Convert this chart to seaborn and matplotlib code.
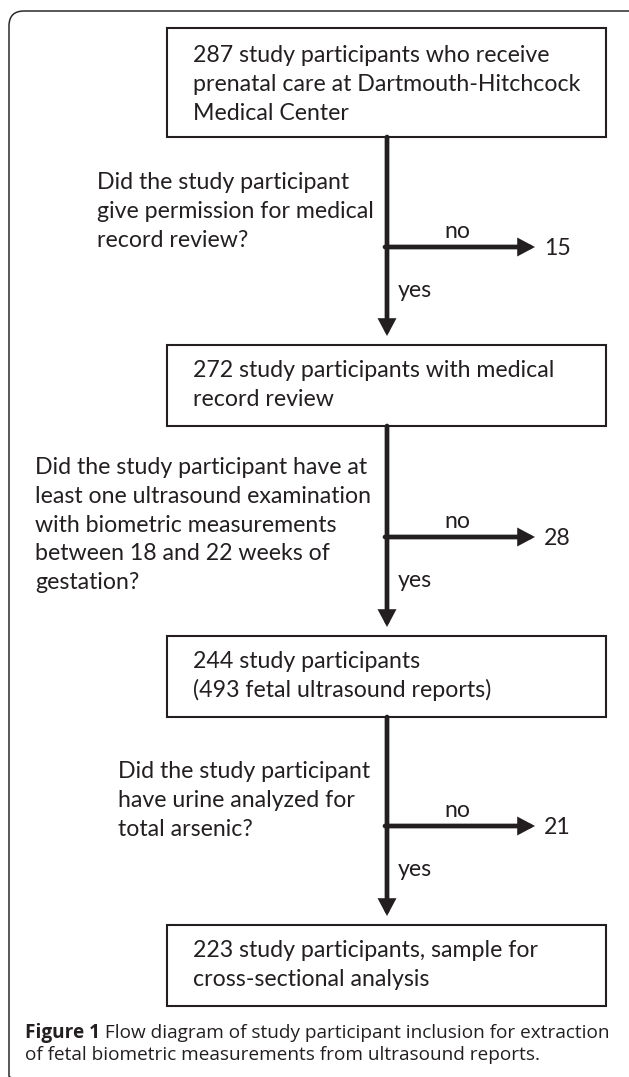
import matplotlib
matplotlib.use('Agg')
import matplotlib.pyplot as plt
import seaborn as sns
from matplotlib.patches import FancyBboxPatch, Rectangle, FancyArrowPatch

sns.set_theme(style='white')
plt.rcParams['font.family'] = ['Lato', 'DejaVu Sans']

# data
stage_counts = [287, 272, 244, 223]
stage_lines = [
    ['{} study participants who receive', 'prenatal care at Dartmouth-Hitchcock', 'Medical Center'],
    ['{} study participants with medical', 'record review'],
    ['{} study participants', '(493 fetal ultrasound reports)'],
    ['{} study participants, sample for', 'cross-sectional analysis'],
]
excluded_counts = [15, 28, 21]
question_lines = [
    ['Did the study participant', 'give permission for medical', 'record review?'],
    ['Did the study participant have at', 'least one ultrasound examination',
     'with biometric measurements', 'between 18 and 22 weeks of', 'gestation?'],
    ['Did the study participant', 'have urine analyzed for', 'total arsenic?'],
]
branch_labels = ['no', 'yes']
caption_bold = 'Figure 1'
caption_lines = [' Flow diagram of study participant inclusion for extraction',
                 'of fetal biometric measurements from ultrasound reports.']

# layout in pixels (y grows downwards)
W, H = 629, 1077
ink = '#231f20'
box_left, box_right = 167, 606
box_top = [28, 345, 636, 925]
box_bottom = [137, 426, 717, 1006]
box_text_x = 193
box_first_base = [62, 377, 668, 957]
q_x = [97, 35, 118]
q_first_base = [189, 474, 778]
line_gap = 28.8
stem_x = 387
branch_y = [247, 537, 826]
branch_tip = 535
body_size = 16.7

fig = plt.figure(figsize=(W / 100, H / 100), dpi=100)
ax = fig.add_axes([0, 0, 1, 1])
ax.set_xlim(0, W)
ax.set_ylim(H, 0)
ax.axis('off')

# outer rounded frame, cut by the right and bottom edges
ax.add_patch(FancyBboxPatch((9, 11), 640, 1080,
                            boxstyle='round,pad=0,rounding_size=15',
                            fc='none', ec='#2a2a2a', lw=1.1, clip_on=True))

# boxes with their text
for i, count in enumerate(stage_counts):
    ax.add_patch(Rectangle((box_left, box_top[i]), box_right - box_left,
                           box_bottom[i] - box_top[i], fc='white', ec=ink, lw=1.5))
    for j, line in enumerate(stage_lines[i]):
        ax.text(box_text_x, box_first_base[i] + j * line_gap, line.format(count),
                fontsize=body_size, color=ink, va='baseline', ha='left')


def arrow(p0, p1):
    ax.add_patch(FancyArrowPatch(p0, p1, arrowstyle='-|>,head_length=7.5,head_width=4.0',
                                 mutation_scale=1, lw=3.4, color=ink,
                                 shrinkA=0, shrinkB=0, joinstyle='miter'))


# questions, branches and arrows
for i, n in enumerate(excluded_counts):
    for j, line in enumerate(question_lines[i]):
        ax.text(q_x[i], q_first_base[i] + j * line_gap, line,
                fontsize=body_size, color=ink, va='baseline', ha='left')
    arrow((stem_x, box_bottom[i]), (stem_x, box_top[i + 1] - 9))
    arrow((stem_x - 2, branch_y[i]), (branch_tip, branch_y[i]))
    ax.text(444, branch_y[i] - 9, branch_labels[0], fontsize=body_size,
            color=ink, va='baseline', ha='left')
    ax.text(398, branch_y[i] + 50, branch_labels[1], fontsize=body_size,
            color=ink, va='baseline', ha='left')
    ax.text(544, branch_y[i] + 8, str(n), fontsize=body_size,
            color=ink, va='baseline', ha='left')

# caption: bold label followed by regular text
cap_font = ['Open Sans', 'DejaVu Sans']
cap_size = 13.7
t = ax.text(25, 1038, caption_bold, fontsize=cap_size, fontweight='bold',
            family=cap_font, color=ink, va='baseline', ha='left')
fig.canvas.draw()
bb = t.get_window_extent()
x_after = ax.transData.inverted().transform((bb.x1, bb.y0))[0]
ax.text(x_after, 1038, caption_lines[0], fontsize=cap_size, family=cap_font,
        color=ink, va='baseline', ha='left')
ax.text(25, 1060, caption_lines[1], fontsize=cap_size, family=cap_font,
        color=ink, va='baseline', ha='left')

fig.savefig('out.png', dpi=100)
